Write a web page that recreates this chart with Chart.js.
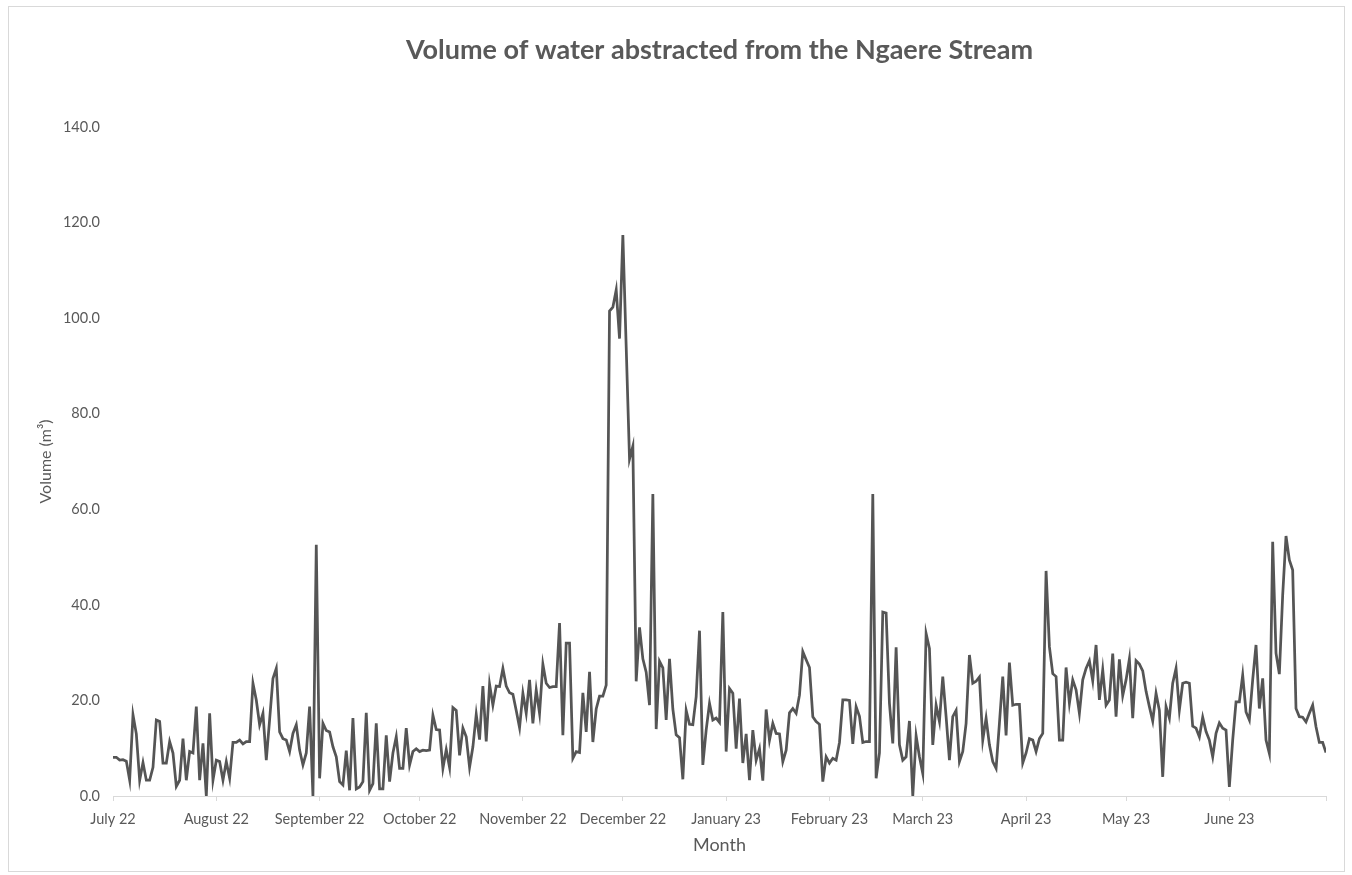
<!DOCTYPE html>
<html>
<head>
<meta charset="utf-8">
<script src="https://cdn.jsdelivr.net/npm/chart.js@4"></script>
<style>
  html, body { margin: 0; padding: 0; background: #fff; }
  #wrap { position: relative; width: 1352px; height: 875px; }
  #frame { position: absolute; left: 8px; top: 6px; width: 1337px; height: 866px; border: 1px solid #d9d9d9; box-sizing: border-box; }
  canvas { position: absolute; left: 0; top: 0; }
</style>
</head>
<body>
<div id="wrap">
  <div id="frame"></div>
  <canvas id="volumeChart" width="1352" height="875"></canvas>
</div>
<script>
const chartTitle = 'Volume of water abstracted from the Ngaere Stream';
const monthLabels = ['July 22', 'August 22', 'September 22', 'October 22', 'November 22', 'December 22',
  'January 23', 'February 23', 'March 23', 'April 23', 'May 23', 'June 23'];
const monthDays = [31, 31, 30, 31, 30, 31, 31, 28, 31, 30, 31, 30];
const yTicks = [0, 20, 40, 60, 80, 100, 120, 140];

// daily volumes (m³), one array per month
const jul22 = [8.1, 8.1, 7.5, 7.6, 7.3, 3.3, 17, 13, 3.3, 7, 3.3, 3.3, 6, 15.9, 15.6, 6.9, 6.9, 11.4, 9, 2,
  3.3, 12, 3.3, 9.3, 9, 18.7, 3.3, 11, 0, 17.3, 3.3];
const aug22 = [7.5, 7.2, 3.3, 7.2, 3.7, 11.2, 11.2, 11.7, 10.9, 11.4, 11.4, 23.6, 20.1, 14.9, 17.3, 7.5, 16,
  24.6, 26.7, 13.4, 12, 11.7, 9.3, 13.1, 14.9, 9.6, 6.5, 9, 18.7, 0, 52.6];
const sep22 = [3.7, 15.2, 13.7, 13.4, 10.3, 8.2, 3, 2.3, 9.5, 1.2, 16.3, 1.5, 1.9, 3, 17.4, 1.2, 2.6, 15.2,
  1.5, 1.5, 12.7, 3, 9, 12.4, 5.8, 5.8, 14.2, 6.5, 9.3, 9.9];
const oct22 = [9.3, 9.6, 9.5, 9.6, 16.9, 13.9, 13.8, 5.8, 9.7, 6, 18.5, 17.9, 8.5, 14.2, 12.4, 6, 10.3, 17.1,
  11.8, 23, 11.4, 23.4, 19, 23, 22.9, 26.7, 23, 21.6, 21.3, 17.9, 14.3];
const nov22 = [21.5, 17.3, 24.3, 15.2, 22.2, 17.3, 27.6, 23.6, 22.7, 22.9, 22.9, 36.2, 12.7, 32, 32, 7.9, 9.3,
  9.1, 21.6, 13.4, 26, 11.3, 18.2, 20.9, 20.9, 23.2, 101.5, 102.3, 105.9, 95.7];
const dec22 = [117.4, 94, 70.5, 73.2, 24, 35.3, 28.7, 25.9, 19, 63.2, 14, 28.2, 26.8, 15.9, 28.7, 18.2, 12.8,
  12.2, 3.5, 17.9, 15, 14.9, 20.8, 34.6, 6.5, 13.8, 19.4, 15.9, 16.3, 15.4, 38.5];
const jan23 = [9.3, 22.5, 21.5, 9.9, 20.4, 6.9, 13, 3.3, 13.8, 7.5, 9.9, 3.2, 18.1, 11.7, 15.2, 13.1, 13, 7.2,
  9.6, 17.4, 18.3, 17.3, 21.1, 30.2, 28.5, 26.9, 16.6, 15.6, 15, 3, 8.2];
const feb23 = [6.9, 7.9, 7.5, 11.2, 20.1, 20.1, 20, 10.9, 18.7, 16.7, 11.2, 11.4, 11.4, 63.2, 3.7, 9, 38.5, 38.3,
  19.4, 11, 31.1, 10.7, 7.5, 8.2, 15.7, 0, 12.6, 8.2];
const mar23 = [4.7, 34, 30.9, 10.7, 19, 15.6, 25, 16.6, 7.5, 16.6, 17.9, 7.2, 9.3, 15.2, 29.5, 23.6, 24, 24.9,
  11.7, 16.3, 10.7, 7.2, 5.8, 15.2, 25, 12.7, 27.9, 19, 19.2, 19.2, 6.9];
const apr23 = [9, 12, 11.7, 9.3, 12, 13.1, 47.1, 31.2, 25.6, 25, 11.7, 11.7, 26.9, 19.4, 24.3, 22.2, 17.3, 24.3,
  26.7, 28.3, 24.1, 31.6, 20.1, 26.4, 19, 20.1, 29.8, 16.6, 28.6, 21];
const may23 = [24.3, 28.7, 16.3, 28.3, 27.6, 26.2, 21.9, 18.7, 15.7, 21.5, 17.9, 4, 18.7, 16.3, 23.6, 26.7, 18,
  23.6, 23.8, 23.6, 14.6, 14.2, 12.4, 16.5, 13.5, 11.7, 8.2, 13.1, 15.3, 14.2, 13.8];
const jun23 = [1.9, 11.7, 19.7, 19.7, 25.3, 17.6, 15.9, 24.3, 31.6, 18.3, 24.6, 11.7, 8.9, 53.2, 29.9, 25.5, 42,
  54.4, 49.4, 47.3, 18.3, 16.6, 16.5, 15.5, 17.3, 19, 14.5, 11.2, 11.2, 9.1];

const volumes = [].concat(jul22, aug22, sep22, oct22, nov22, dec22, jan23, feb23, mar23, apr23, may23, jun23);
const lastDay = volumes.length - 1;

// day index of the first of each month, used as x ticks
const monthStarts = [];
let day = 0;
monthDays.forEach(n => { monthStarts.push(day); day += n; });

const grey = '#595959';
const axisGrey = '#d9d9d9';

new Chart(document.getElementById('volumeChart'), {
  type: 'line',
  data: {
    datasets: [{
      label: 'Volume',
      data: volumes.map((v, i) => ({ x: i, y: v })),
      borderColor: '#555555',
      borderWidth: 2.75,
      pointRadius: 0,
      tension: 0,
    }],
  },
  options: {
    responsive: false,
    animation: false,
    layout: { padding: { top: 26, right: 26, bottom: 0, left: 0 } },
    plugins: {
      legend: { display: false },
      tooltip: { enabled: false },
      title: {
        display: true,
        text: chartTitle,
        fullSize: false,
        color: grey,
        font: { family: 'Lato', size: 27, weight: 'bold' },
        padding: { top: 8, bottom: 60.6 },
      },
    },
    scales: {
      x: {
        type: 'linear',
        min: 0,
        max: lastDay,
        afterBuildTicks: scale => {
          scale.ticks = monthStarts.concat([lastDay]).map(v => ({ value: v }));
        },
        afterFit: scale => { scale.height = 79; },
        ticks: {
          autoSkip: false,
          maxRotation: 0,
          padding: 10,
          color: grey,
          font: { family: 'Lato', size: 14.5 },
          callback: value => {
            const i = monthStarts.indexOf(value);
            return i >= 0 ? monthLabels[i] : '';
          },
        },
        grid: { drawOnChartArea: false, drawTicks: true, tickLength: 5, color: axisGrey },
        border: { color: axisGrey, width: 1 },
        title: {
          display: true,
          text: 'Month',
          color: grey,
          font: { family: 'Lato', size: 18 },
          padding: { top: 0, bottom: 19 },
        },
      },
      y: {
        min: 0,
        max: 140,
        afterBuildTicks: scale => {
          scale.ticks = yTicks.map(v => ({ value: v }));
        },
        afterFit: scale => { scale.width = 113; },
        ticks: {
          padding: 13,
          color: grey,
          font: { family: 'Lato', size: 14.5 },
          callback: value => value.toFixed(1),
        },
        grid: { display: false, drawTicks: false },
        border: { display: false },
        title: {
          display: true,
          text: 'Volume (m³)',
          color: grey,
          font: { family: 'Lato', size: 16 },
          padding: { top: 36, bottom: 0 },
        },
      },
    },
  },
});
</script>
</body>
</html>
